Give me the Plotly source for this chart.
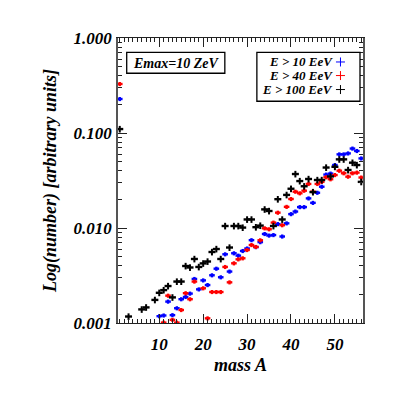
import plotly.graph_objects as go

mass = list(range(1, 57))

# E > 100 EeV (black)
black = [0.11, None, 0.00117, None, None, 0.00139, 0.00146, None, 0.00175, 0.00208,
         0.00222, 0.00245, 0.00186, 0.00273, 0.00273, 0.00398, 0.00384, 0.00472, 0.00389, 0.00424,
         0.00444, 0.00559, 0.00601, 0.00472, 0.0105, 0.00623, 0.0105, 0.0105, 0.0101, 0.0123,
         0.0123, 0.0102, 0.0106, 0.0157, 0.0151, 0.0105, 0.0201, 0.0123, 0.0223, 0.0259,
         0.0370, 0.0312, 0.0275, 0.0328, 0.0239, 0.0320, 0.0320, 0.0433, 0.0349, 0.0441,
         0.0528, 0.0528, 0.0408, 0.0487, 0.0460, 0.0306]

# E > 10 EeV (blue)
blue = [0.228, None, None, None, None, None, None, None, None, 0.00118,
        0.00120, 0.00168, 0.00121, 0.00143, 0.00178, 0.00188, 0.00204, 0.00291, 0.00226, 0.00281,
        0.00251, 0.00318, 0.00373, 0.00303, 0.00529, 0.00348, 0.00542, 0.00512, 0.00573, 0.00609,
        0.00745, 0.00630, 0.00710, 0.00865, 0.00833, 0.00843, 0.0110, 0.00814, 0.0112, 0.0140,
        0.0149, 0.0166, 0.0166, 0.0205, 0.0184, 0.0235, 0.0272, 0.0365, 0.0374, 0.0460,
        0.0596, 0.0596, 0.0610, 0.0686, 0.0647, 0.0540]

# E > 40 EeV (red)
red = [0.328, None, None, None, None, None, None, None, None, None,
       0.00101, 0.00194, 0.00108, 0.00101, 0.00137, 0.00206, 0.00178, 0.00273, None, 0.00232,
       0.00112, 0.00212, 0.00212, 0.00212, 0.00389, 0.00268, 0.00425, 0.00468, 0.00480, 0.00587,
       0.00662, 0.00632, 0.00743, 0.00993, 0.00970, 0.0114, 0.0145, 0.0107, 0.0167, 0.0202,
       0.0241, 0.0232, 0.0247, 0.0291, 0.0241, 0.0291, 0.0306, 0.0342, 0.0326, 0.0361,
       0.0401, 0.0377, 0.0347, 0.0377, 0.0383, 0.0340]

legend_labels = ["E > 10 EeV", "E > 40 EeV", "E > 100 EeV"]
legend_colors = ["#0000ff", "#ff0000", "#000000"]

FONT = "Liberation Serif"

fig = go.Figure()

def add_series(y, color, size, err, errthick):
    fig.add_trace(go.Scatter(
        x=mass, y=y, mode="markers",
        marker=dict(symbol="line-ew", size=size, line=dict(color=color, width=2.4), color=color),
        error_y=dict(type="percent", value=err, color=color, thickness=errthick, width=0),
        showlegend=False, cliponaxis=True,
    ))

add_series(blue, "#0000ff", 4, 5, 2.4)
add_series(red, "#ff0000", 4, 5, 2.4)
add_series(black, "#000000", 5, 8, 2)

tick_font = dict(family=FONT, size=17, weight="bold", style="italic", color="black")
title_font = dict(family=FONT, size=18, weight="bold", style="italic", color="black")

fig.update_xaxes(
    range=[0.6, 56.4], tick0=0, dtick=10, ticks="inside", ticklen=9, tickwidth=1,
    tickcolor="#222", showline=True, linecolor="#222", linewidth=1, mirror="ticks",
    showgrid=False, zeroline=False, tickfont=tick_font, ticklabelstandoff=6,
    minor=dict(ticks="inside", ticklen=4, dtick=1, tickcolor="#222", showgrid=False),
    title=dict(text="mass A", font=title_font, standoff=4),
)
fig.update_yaxes(
    type="log", range=[-3, 0], dtick=1, tickformat=".3f", ticks="inside", ticklen=9,
    tickwidth=1, tickcolor="#222", showline=True, linecolor="#555", linewidth=1.5,
    mirror="ticks", showgrid=False, zeroline=False, tickfont=tick_font, ticklabelstandoff=1,
    minor=dict(ticks="inside", ticklen=4, dtick="D1", tickcolor="#222", showgrid=False),
    title=dict(text="Log(number) [arbitrary units]", font=title_font, standoff=12),
)

# page body has an 8px margin, so screen pixel p corresponds to figure pixel p - 8
OFF = 8
L, R, T, B = 118.3 - OFF, 363 - OFF, 37.7 - OFF, 323 - OFF

def px(xp):
    return (xp - 118.3) / (363 - 118.3)

def py(yp):
    return (323 - yp) / (323 - 37.7)

ann_font = dict(family=FONT, size=14, weight="bold", style="italic", color="black")
leg_font = dict(family=FONT, size=13, weight="bold", style="italic", color="black")

shapes = [
    dict(type="rect", xref="paper", yref="paper", x0=px(127), x1=px(225), y0=py(73), y1=py(52),
         line=dict(color="black", width=1.3), fillcolor="white"),
    dict(type="rect", xref="paper", yref="paper", x0=px(257), x1=px(360), y0=py(101), y1=py(52),
         line=dict(color="black", width=1.3), fillcolor="white"),
]
annotations = [
    dict(xref="paper", yref="paper", x=px(176), y=py(63), text="Emax=10 ZeV", showarrow=False,
         font=ann_font, xanchor="center", yanchor="middle"),
]
rows_y = [61.7, 75.3, 89.3]
for lab, col, ry in zip(legend_labels, legend_colors, rows_y):
    annotations.append(dict(xref="paper", yref="paper", x=px(335), y=py(ry), text=lab,
                            showarrow=False, font=leg_font, xanchor="right", yanchor="middle"))
    cx, cy = 340.5, ry
    shapes.append(dict(type="line", xref="paper", yref="paper", x0=px(cx - 4.5), x1=px(cx + 4.5),
                       y0=py(cy), y1=py(cy), line=dict(color=col, width=1)))
    shapes.append(dict(type="line", xref="paper", yref="paper", x0=px(cx), x1=px(cx),
                       y0=py(cy - 4.5), y1=py(cy + 4.5), line=dict(color=col, width=1)))

fig.update_layout(
    width=399, height=399,
    margin=dict(l=L, r=399 - R, t=T, b=399 - B, autoexpand=False),
    paper_bgcolor="white", plot_bgcolor="white",
    shapes=shapes, annotations=annotations,
    showlegend=False,
)

fig.write_html("out.html")
